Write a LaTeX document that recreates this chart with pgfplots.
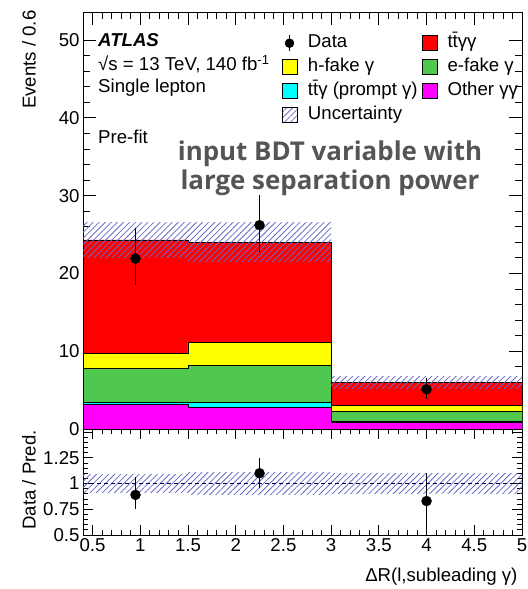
\documentclass[border=0pt]{standalone}
\usepackage{fontspec}
\setmainfont{Liberation Sans}
\newfontfamily\opensans{Open Sans}
\usepackage{pgfplots}
\pgfplotsset{compat=1.18}
\usetikzlibrary{patterns.meta}

\definecolor{hatchblue}{RGB}{105,105,200}
\definecolor{ttgg}{RGB}{255,0,0}
\definecolor{hfake}{RGB}{255,255,0}
\definecolor{efake}{RGB}{80,200,80}
\definecolor{prompt}{RGB}{0,255,255}
\definecolor{othergg}{RGB}{255,0,255}
\definecolor{overlaygray}{RGB}{85,85,85}

\newcommand{\ttbar}{t\={t}}
\newcommand{\txt}{\fontsize{18.7}{21}\selectfont}

\pgfplotsset{
  atlasframe/.style={
    scale only axis,
    xmin=0.4, xmax=5,
    tick align=inside,
    xtick pos=both, ytick pos=both,
    axis line style={line width=0.9pt},
    every tick/.style={black, line width=0.8pt},
    /pgf/number format/assume math mode=true,
    tick label style={font=\txt},
    xtick={0.5,1,1.5,2,2.5,3,3.5,4,4.5,5},
    minor x tick num=4,
  },
  stackfill/.style={forget plot, draw=black, line width=0.9pt, const plot},
  uncband/.style={forget plot, draw=none, pattern={Lines[angle=45, distance=4.3bp, line width=0.8bp]}, pattern color=hatchblue},
  datapts/.style={forget plot, only marks, mark=*, mark size=5bp, black,
    error bars/.cd, y dir=both, y explicit, error mark=none,
    error bar style={line width=1.3pt, black}},
  boxentry/.style={legend image code/.code={\draw[fill=#1, line width=0.9pt] (0bp,-7.5bp) rectangle (15bp,7.5bp);}},
}

\begin{document}
\begin{tikzpicture}
\begin{axis}[
  atlasframe,
  name=main, at={(0,0)}, anchor=north west,
  width=439bp, height=417bp,
  ymin=0, ymax=53.6,
  ytick={0,10,20,30,40,50}, minor y tick num=4,
  xticklabels={},
  major tick length=13bp, minor tick length=7bp,
  legend columns=2,
  legend style={draw=none, fill=none, at={(0.453,0.952)}, anchor=north west,
    font=\txt, row sep=2bp, inner sep=0pt,
    nodes={text height=13bp, text depth=5bp},
    /tikz/every odd column/.append style={column sep=8bp},
    /tikz/every even column/.append style={column sep=2bp}},
  legend cell align=left,
]
% stacked backgrounds, each drawn as the cumulative sum down to zero
% ttgg (top of stack)
\addplot[stackfill, fill=ttgg] coordinates {(0.4,24.3) (1.5,24.0) (3,6.0) (5,6.0)} \closedcycle;
% h-fake photons
\addplot[stackfill, fill=hfake] coordinates {(0.4,9.7) (1.5,11.1) (3,3.05) (5,3.05)} \closedcycle;
% e-fake photons
\addplot[stackfill, fill=efake] coordinates {(0.4,7.8) (1.5,8.15) (3,2.2) (5,2.2)} \closedcycle;
% ttg with prompt photon
\addplot[stackfill, fill=prompt] coordinates {(0.4,3.4) (1.5,3.4) (3,0.95) (5,0.95)} \closedcycle;
% other gamma-gamma processes
\addplot[stackfill, fill=othergg] coordinates {(0.4,3.2) (1.5,2.75) (3,0.85) (5,0.85)} \closedcycle;
% total uncertainty on the prediction
\addplot[uncband] coordinates {(0.4,22.1) (1.5,22.1) (1.5,26.5) (0.4,26.5)} -- cycle;
\addplot[uncband] coordinates {(1.5,21.5) (3,21.5) (3,26.5) (1.5,26.5)} -- cycle;
\addplot[uncband] coordinates {(3,5.2) (5,5.2) (5,6.8) (3,6.8)} -- cycle;
% data
\addplot[datapts] coordinates {
  (0.95,21.9) +=(0,4.0) -=(0,3.4)
  (2.25,26.2) +=(0,3.9) -=(0,3.4)
  (4.0,5.1)   +=(0,1.5) -=(0,1.2)
};

% legend, filled row by row
\addlegendimage{legend image code/.code={
  \draw[black, line width=1.3pt] (7bp,-8bp) -- (7bp,8bp);
  \fill[black] (7bp,0bp) circle (4.5bp);}}
\addlegendentry{Data}
\addlegendimage{boxentry=ttgg}
\addlegendentry{\ttbar γγ}
\addlegendimage{boxentry=hfake}
\addlegendentry{h-fake γ}
\addlegendimage{boxentry=efake}
\addlegendentry{e-fake γ}
\addlegendimage{boxentry=prompt}
\addlegendentry{\ttbar γ (prompt γ)}
\addlegendimage{boxentry=othergg}
\addlegendentry{Other γγ}
\addlegendimage{legend image code/.code={\path[pattern={Lines[angle=45, distance=4.3bp, line width=0.8bp]}, pattern color=hatchblue] (0bp,-7.5bp) rectangle (15bp,7.5bp);}}
\addlegendentry{Uncertainty}
\end{axis}

\begin{axis}[
  atlasframe,
  name=ratio, at={(main.south west)}, anchor=north west,
  width=439bp, height=106bp,
  ymin=0.5, ymax=1.53,
  ytick={0.5,0.75,1,1.25,1.5}, yticklabels={0.5,0.75,1,1.25,},
  minor y tick num=4,
  xticklabels={0.5,1,1.5,2,2.5,3,3.5,4,4.5,5},
  major tick length=10bp, minor tick length=5bp,
]
\addplot[uncband] coordinates {(0.4,0.91) (1.5,0.91) (1.5,1.09) (0.4,1.09)} -- cycle;
\addplot[uncband] coordinates {(1.5,0.89) (3,0.89) (3,1.11) (1.5,1.11)} -- cycle;
\addplot[uncband] coordinates {(3,0.90) (5,0.90) (5,1.10) (3,1.10)} -- cycle;
\addplot[black!70!blue, line width=0.8pt, dash pattern=on 4bp off 3bp] coordinates {(0.4,1) (5,1)};
\addplot[datapts] coordinates {
  (0.95,0.89) +=(0,0.17) -=(0,0.14)
  (2.25,1.10) +=(0,0.15) -=(0,0.14)
  (4.0,0.83)  +=(0,0.27) -=(0,0.31)
};
\end{axis}

% axis titles
\node[rotate=90, anchor=east, font=\txt] at (-54bp,5bp) {Events / 0.6};
\node[rotate=90, anchor=center, font=\txt] at (-54bp,-468bp) {Data / Pred.};
\node[anchor=east, font=\txt] at (438bp,-565bp) {ΔR(l,subleading γ)};

% labels inside the main panel
\begin{scope}[every node/.style={anchor=west, inner sep=0pt, font=\txt}]
\node at (15bp,-28bp) {\bfseries\itshape ATLAS};
\node at (15bp,-52bp) {√s = 13 TeV, 140 fb\textsuperscript{-1}};
\node at (15bp,-76bp) {Single lepton};
\node at (15bp,-125bp) {Pre-fit};
\end{scope}
\node[align=center, text=overlaygray, font=\opensans\bfseries\fontsize{26}{29}\selectfont] at (247bp,-156bp)
  {input BDT variable with\\large separation power};

% page extent
\pgfresetboundingbox
\path (-83bp,12bp) rectangle (445bp,-577bp);
\end{tikzpicture}
\end{document}
